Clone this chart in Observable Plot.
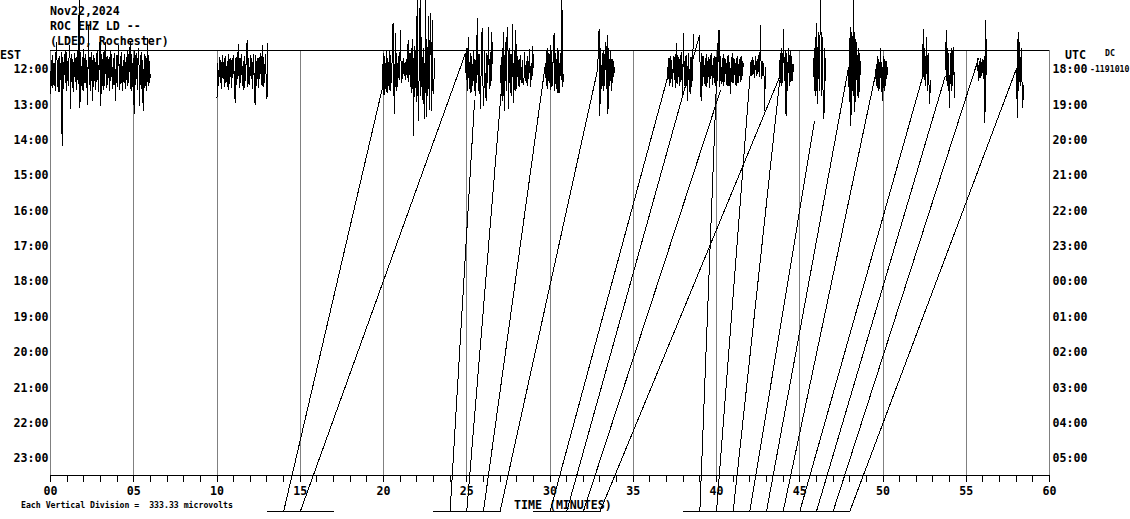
<!DOCTYPE html>
<html><head><meta charset="utf-8">
<script src="https://cdn.jsdelivr.net/npm/d3@7"></script>
<script src="https://cdn.jsdelivr.net/npm/@observablehq/plot@0.6"></script>
<style>
body{margin:0;background:#fff;}
#wrap{position:relative;width:1130px;height:519px;font-family:"DejaVu Sans Mono",monospace;font-weight:bold;color:#000;overflow:hidden;}
#wrap svg{position:absolute;left:0;top:0;shape-rendering:crispEdges;}
.t{position:absolute;white-space:pre;font-size:11.6px;line-height:1;}
.s{font-size:8.2px;}
</style></head><body><div id="wrap">
<div class="t" style="left:50px;top:6px">Nov22,2024</div>
<div class="t" style="left:50px;top:21px">ROC EHZ LD --</div>
<div class="t" style="left:50px;top:36px">(LDEO, Rochester)</div>
<div class="t" style="left:0px;top:50px">EST</div>
<div class="t" style="left:1065px;top:50px">UTC</div>
<div class="t s" style="left:1105px;top:49px">DC</div>
<div class="t s" style="left:1090px;top:65px">-1191010</div>
<div class="t" style="left:514px;top:500px">TIME (MINUTES)</div>
<div class="t s" style="left:21px;top:501px">Each Vertical Division =  333.33 microvolts</div>
</div>
<script>
// ---- tick labels ----
const xTickLabels = ["00","05","10","15","20","25","30","35","40","45","50","55","60"];
const estLabels = ["12:00","13:00","14:00","15:00","16:00","17:00","18:00","19:00","20:00","21:00","22:00","23:00"];
const utcLabels = ["18:00","19:00","20:00","21:00","22:00","23:00","00:00","01:00","02:00","03:00","04:00","05:00"];
const microvoltsPerDivision = 333.33;

// ---- recorded bursts on the 12:00 line (start/end minute, samples in microvolts) ----
const burstStart = [0, 10.0, 19.94, 24.92, 27.03, 29.73, 32.85, 37.06, 38.98, 42.04, 43.78, 45.83, 47.93, 49.55, 52.37, 53.75, 55.68, 58.02];
const burstEnd   = [6.0, 13.05, 23.06, 26.55, 29.01, 30.81, 33.87, 38.62, 41.62, 42.94, 44.62, 46.55, 48.65, 50.27, 52.85, 54.29, 56.22, 58.44];
const burstSamples = [
  [-226,90,-170,130,-140,60,-200,150,255,-160,100,-210,120,-90,160,-717,110,-180,140,-120,170,-200,80,-150,130,226,-368,140,-170,100,-210,150,-110,120,-190,180,-130,650,-358,160,-150,110,-200,190,-120,140,-170,90,-330,415,-140,120,-200,160,-292,130,-160,100,-190,150,-120,180,-210,110,273,-340,140,-150,160,-190,120,250,-170,130,-140,90,-200,170,-110,140,-180,100,-150,150,-292,130,-160,110,230,-190,120,-140,160,-200,90,-130,140,-180,110,-150,170,-120,130,255,-200,140,-160,100,-415,180,-140,150,-190,110,200,-340,130,-180,160,-250,-387,140,-170,120,-200,290,-150,130,-120,-50],
  [-264,60,-150,110,-120,90,-180,130,-90,100,-160,120,-110,80,-190,140,-130,100,-170,110,-80,130,-200,-311,120,-140,90,236,-170,110,-120,140,-150,80,-190,120,-100,150,270,-160,100,-140,130,-90,110,-180,140,-120,-330,130,-150,100,-170,120,-90,150,-140,226,-160,110,-120,140,-90,-273,250],
  [-170,150,-240,120,-180,170,-220,100,-150,180,-200,130,-120,160,440,-180,-415,340,-200,150,-160,120,-100,90,370,-120,80,-90,100,-60,70,-100,90,-80,280,-110,150,-160,200,-220,283,-620,220,-260,180,-300,650,-200,-480,250,650,-250,300,-280,200,-300,-460,650,-440,280,-250,500,-380,250,530,-390,460,-200,-230,100],
  [151,-100,200,-200,300,-180,150,-220,120,-150,180,-200,100,-245,160,480,-200,150,-180,-370,200,390,-150,-340,180,-200,-290,150,-120,400,-180,160,-150,350,60],
  [38,-250,200,-300,350,-386,250,-200,300,396,-368,200,-220,150,-250,425,-311,180,-200,368,-180,120,-150,100,-160,130,-120,90,-140,-132,160,-100,80,-150,120,-90,190,-160,60,-100,220,20],
  [57,-150,200,-180,150,-120,230,-190,180,-150,200,340,-200,150,-180,200,-226,170,-217,150,-100,650,-160,-50],
  [-9,150,377,-434,200,-180,150,-200,180,-150,250,-180,320,-415,200,-150,180,-200,100,-120,80,-30],
  [-75,100,-150,130,-120,90,-160,120,-100,140,-170,245,-130,110,-150,130,-120,160,-245,340,-150,120,-170,130,-290,150,-140,-226,120,-160,100,330],
  [321,-100,-290,150,-150,120,-130,100,-160,140,-120,110,-170,130,-90,150,-140,100,-120,130,-150,110,-100,140,370,-160,120,-130,100,-150,140,-110,90,-140,120,-160,130,-100,-226,110,-130,150,-120,90,-140,100,-150,120,-122,90,-110,130,-100,80,30],
  [70,-60,110,-50,90,-80,120,-60,100,-40,130,-70,415,-90,80,-60,60,-386,20],
  [-75,150,-150,200,-120,377,-100,180,-434,150,-200,200,-150,180,-120,120,-100,50],
  [100,-200,300,-250,434,-320,350,-200,300,650,-250,300,-300,-462,200,-100],
  [20,-300,400,-528,350,-200,650,-400,350,-300,250,-250,200,-264,150,-50],
  [0,-150,120,-200,100,-180,198,-100,-292,120,-200,100,-150,80,-50],
  [-75,377,-100,200,-150,302,-200,150,-100,-320,-100],
  [0,370,-150,200,-100,-358,150,-200,200,-150,207,-264],
  [100,-100,80,-80,100,-60,90,-90,120,-500,460,-50],
  [10,-452,350,-200,250,-150,200,-100,-358,-150]
];

// ---- off-scale excursions (bottom minute -> minute/value where trace resumes) ----
const offScaleLevel = -4167; // microvolts relative to the 12:00 line
const jumpFromMinute = [14,15,24,25,26,27,30,31,32,33,39,40,41,42,43,44,45,46,47,48];
const jumpToMinute   = [19.94,24.92,25.47,27.2,29.73,32.85,37.06,38.98,40.24,43.78,40.12,42.04,43.8,45.89,47.93,49.6,52.37,53.75,55.74,58.02];
const jumpToValue    = [-170,151,-292,38,57,-9,-75,321,-198,-75,368,-9,-100,-481,19,-9,-75,-57,104,9];
const flatStart = [13,23,29,38];
const flatEnd   = [17,27,33,48];

// ---- build tables ----
const toRow = (v) => 0 - v / microvoltsPerDivision;
const trace = [];
burstSamples.forEach((vals, k) => {
  const n = vals.length;
  vals.forEach((v, i) => {
    trace.push({burst: k, t: burstStart[k] + i * (burstEnd[k] - burstStart[k]) / (n - 1), row: toRow(v)});
  });
});
const jumps = jumpFromMinute.map((m, i) => ({x1: m, y1: toRow(offScaleLevel), x2: jumpToMinute[i], y2: toRow(jumpToValue[i])}));
const flats = flatStart.map((m, i) => ({x1: m, x2: flatEnd[i], y: toRow(offScaleLevel)}));

const yTop = -0.537, yBottom = 11.48;

const chart = Plot.plot({
  width: 1130, height: 519,
  marginLeft: 50, marginRight: 81, marginTop: 50, marginBottom: 44,
  x: {domain: [0, 60]},
  y: {domain: [yTop, yBottom], reverse: true},
  style: {fontFamily: "DejaVu Sans Mono, monospace", fontSize: "11.6px", fontWeight: "bold", color: "black", background: "transparent", overflow: "visible"},
  marks: [
    Plot.ruleX(d3.range(0, 61, 5), {stroke: "#808080", strokeWidth: 1}),
    Plot.ruleY([yTop], {stroke: "black", strokeWidth: 1}),
    Plot.ruleY([yBottom], {stroke: "black", strokeWidth: 1}),
    Plot.axisX(d3.range(0, 61), {anchor: "bottom", tickSize: 7, tickFormat: () => "", label: null}),
    Plot.axisX(d3.range(0, 61, 5), {anchor: "bottom", tickSize: 0, tickPadding: 11, tickFormat: (d) => xTickLabels[Math.round(d / 5)], label: null}),
    Plot.axisY(d3.range(0, 12), {anchor: "left", tickSize: 0, tickPadding: 2, tickFormat: (d) => estLabels[d], label: null}),
    Plot.axisY(d3.range(0, 12), {anchor: "right", tickSize: 0, tickPadding: 3, tickFormat: (d) => utcLabels[d], label: null}),
    Plot.link(flats, {x1: "x1", x2: "x2", y1: "y", y2: "y", stroke: "black", strokeWidth: 1}),
    Plot.link(jumps, {x1: "x1", y1: "y1", x2: "x2", y2: "y2", stroke: "black", strokeWidth: 1}),
    Plot.line(trace, {x: "t", y: "row", z: "burst", stroke: "black", strokeWidth: 1})
  ]
});
document.getElementById("wrap").prepend(chart);
</script>
</body></html>
